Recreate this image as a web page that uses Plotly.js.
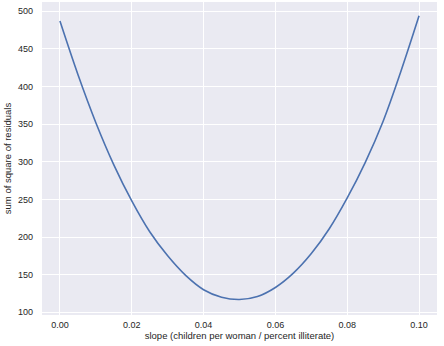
<!DOCTYPE html>
<html>
<head>
<meta charset="utf-8">
<script src="https://cdn.plot.ly/plotly-3.0.1.min.js"></script>
<style>html,body{margin:0;padding:0;background:#fff}#chart{width:444px;height:346px}</style>
</head>
<body>
<div id="chart"></div>
<script>
const slopes = [0.000, 0.005, 0.010, 0.015, 0.020, 0.025, 0.030, 0.035, 0.040, 0.045, 0.050,
                0.055, 0.060, 0.065, 0.070, 0.075, 0.080, 0.085, 0.090, 0.095, 0.100];
const ssr = [487, 416, 352, 296, 248, 207, 175, 149, 130, 120, 117,
             121, 133, 152, 178, 211, 252, 299, 354, 421, 494];
const xTicks = [0.00, 0.02, 0.04, 0.06, 0.08, 0.10];
const xTickText = ["0.00", "0.02", "0.04", "0.06", "0.08", "0.10"];
const yTicks = [100, 150, 200, 250, 300, 350, 400, 450, 500];

const font = {family: "Liberation Sans, Arial, sans-serif", size: 9, color: "#262626"};
Plotly.newPlot("chart", [{
  x: slopes, y: ssr, type: "scatter", mode: "lines",
  line: {color: "#4C72B0", width: 1.6, shape: "spline", smoothing: 1},
  hoverinfo: "skip"
}], {
  width: 444, height: 346,
  margin: {l: 42, r: 7, t: 2, b: 31, pad: 0},
  paper_bgcolor: "#ffffff", plot_bgcolor: "#EAEAF2",
  showlegend: false,
  font: font,
  xaxis: {
    range: [-0.005, 0.105], tickvals: xTicks, ticktext: xTickText,
    showgrid: true, gridcolor: "#ffffff", gridwidth: 1, zeroline: false,
    showline: false, ticks: "", ticklabelstandoff: 3,
    tickfont: font,
    title: {text: "slope (children per woman / percent illiterate)", font: {family: font.family, size: 9.5, color: "#262626"}, standoff: 3}
  },
  yaxis: {
    range: [96.4, 512.4], tickvals: yTicks,
    showgrid: true, gridcolor: "#ffffff", gridwidth: 1, zeroline: false,
    showline: false, ticks: "", ticklabelstandoff: 8,
    tickfont: font,
    title: {text: "sum of square of residuals", font: {family: font.family, size: 9.5, color: "#262626"}, standoff: 4}
  }
}, {staticPlot: true, displayModeBar: false});
</script>
</body>
</html>
